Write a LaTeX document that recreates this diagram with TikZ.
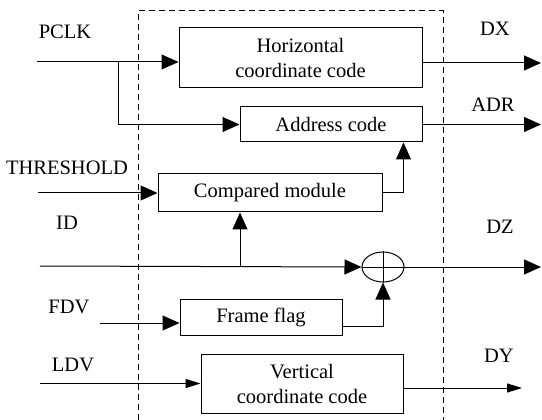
\documentclass[tikz,border=0pt]{standalone}
\usepackage{fontspec}
\setmainfont{Liberation Serif}
\usetikzlibrary{arrows.meta,shapes.geometric}
\tikzset{>={Triangle[length=17pt,width=15pt]},every node/.style={font=\fontsize{20.5}{25}\selectfont},blk/.style={draw,line width=1pt,align=center,inner sep=0pt},flow/.style={line width=1pt,->},thinflow/.style={line width=1pt,-{Triangle[length=15pt,width=9pt]}},edge/.style={line width=1pt}}

\begin{document}
\begin{tikzpicture}[x=1pt,y=-1pt]
\useasboundingbox (0,0) rectangle (542,420);
\draw[line width=1pt,dash pattern=on 6pt off 4pt] (138,420)--(138,11)--(443,11)--(443,420);
\node[blk,minimum width=243pt,minimum height=60pt] (hcode) at (300.5,58){Horizontal\\coordinate code};
\node[blk,minimum width=182pt,minimum height=35pt] (addr) at (331,124.5){Address code};
\node[blk,minimum width=224pt,minimum height=38pt] (cmp) at (270,193){Compared module};
\node[draw,ellipse,line width=1pt,minimum width=42pt,minimum height=30pt,inner sep=0pt] (sum) at (383,267){};
\draw[edge] (sum.north)--(sum.south) (sum.west)--(sum.east);
\node[blk,minimum width=162pt,minimum height=36pt] (flag) at (261,317){Frame flag};
\node[blk,minimum width=202pt,minimum height=59pt] (vcode) at (302,383.5){Vertical\\coordinate code};
\foreach \n/\x/\y/\t in {pclk/65/32/PCLK,thr/67/168/THRESHOLD,id/67/223/ID,fdv/69/307/FDV,ldv/73/365/LDV,dx/495/29/DX,adr/493/105/ADR,dz/500/227/DZ,dy/499/356/DY}{\node (\n) at (\x,\y){\t};}
\coordinate (pclkin) at (37,62);\coordinate (pclkbr) at (118,62);\coordinate (thrin) at (38,193);\coordinate (idin) at (40,266);\coordinate (idbr) at (240,266);
\coordinate (fdvin) at (100,323);\coordinate (ldvin) at (40,383.5);
\coordinate (dxout) at (541,63);\coordinate (adrout) at (541,124.5);\coordinate (dzout) at (541,267);\coordinate (dyout) at (522,388);
\draw[flow] (pclkin)--(pclkin-|hcode.west);\draw[flow] (pclkbr)|-(addr.west);
\draw[flow] (thrin)--(cmp.west);\draw[flow] (cmp.east)-|([xshift=-19pt]addr.south east);
\draw[flow] (idin)--(sum.west);\draw[flow] (idbr)--(idbr|-cmp.south);
\draw[flow] (fdvin)--(fdvin-|flag.west);\draw[flow] ([yshift=-9pt]flag.east)-|(sum.south);
\draw[thinflow] (ldvin)--(vcode.west);
\draw[flow] (hcode.east|-dxout)--(dxout);\draw[flow] (addr.east)--(adrout);\draw[flow] (sum.east)--(dzout);\draw[thinflow] (vcode.east|-dyout)--(dyout);
\end{tikzpicture}
\end{document}
